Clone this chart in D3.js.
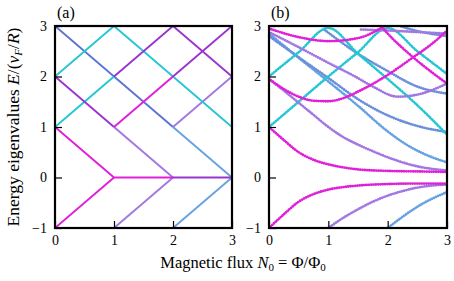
<!DOCTYPE html>
<html>
<head>
<meta charset="utf-8">
<script src="https://cdn.jsdelivr.net/npm/d3@7"></script>
<style>
body{margin:0;background:#fff}
text{font-family:"Liberation Serif","Times New Roman",serif;fill:#000}
</style>
</head>
<body>
<svg width="454" height="281"></svg>
<script>
const width = 454
const height = 281

const xTicks = [0, 1, 2, 3]
const yTicks = [-1, 0, 1, 2, 3]
const xDomain = [0, 3]
const yDomain = [-1, 3]

// panel (a): straight segments, [N0, E]
const aMag1 = [[0,1],[1,0],[2,0]]
const aMag2 = [[0,-1],[1,0]]
const aMag3 = [[1,1],[2,2]]
const aPur1 = [[0,2],[1,1]]
const aPur2 = [[1,2],[2,3],[3,2]]
const aPur3 = [[2,2],[3,3]]
const aPur4 = [[2,0],[3,0]]
const aLpu1 = [[1,-1],[2,0]]
const aLpu2 = [[1,1],[2,0]]
const aLpu3 = [[2,1],[3,2]]
const aBlu1 = [[0,3],[2,1]]
const aLbl1 = [[2,1],[3,0]]
const aLbl2 = [[2,-1],[3,0]]
const aCya1 = [[0,2],[1,3],[3,1]]
const aCya2 = [[0,1],[1,2]]

// panel (b): curves
const bMagUp = [[0,1.0],[0.25,0.74],[0.5,0.5],[0.75,0.35],[1,0.26],[1.25,0.2],[1.5,0.16],[2,0.13],[2.5,0.12],[3,0.11]]
const bMagDn = [[0,-1.0],[0.25,-0.73],[0.5,-0.48],[0.75,-0.33],[1,-0.24],[1.25,-0.19],[1.5,-0.16],[2,-0.13],[2.5,-0.12],[3,-0.12]]
const bPurUp = [[0,1.95],[0.25,1.72],[0.5,1.48],[0.75,1.24],[1,1.0],[1.25,0.8],[1.5,0.65],[1.75,0.52],[2,0.4],[2.25,0.3],[2.5,0.22],[2.75,0.17],[3,0.14]]
const bPurDn = [[1,-1],[1.25,-0.8],[1.5,-0.63],[1.75,-0.48],[2,-0.36],[2.25,-0.27],[2.5,-0.2],[2.75,-0.16],[3,-0.14]]
const bLblDn = [[2,-1],[2.25,-0.78],[2.5,-0.58],[2.75,-0.42],[3,-0.29]]
const bLblUp = [[0,2.85],[0.5,2.37],[1,1.9],[1.5,1.42],[1.98,0.93],[2.25,0.7],[2.5,0.53],[2.75,0.4],[3,0.3]]
const bBlu2 = [[0,2.8],[0.5,2.38],[1,1.97],[1.5,1.55],[2,1.23],[2.5,1.02],[3,0.9]]
const bBluTop = [[0.94,2.92],[1.5,2.45],[1.98,2.12],[2.5,1.8],[3,1.66]]
const bBluTop2 = [[2.15,3.02],[2.5,2.9],[3,2.8]]
const bPurTop = [[0,2.88],[0.5,2.58],[1,2.27],[1.45,2.0],[1.75,1.8],[2.17,1.6],[2.5,1.64],[3,1.86]]
const bPurTop2 = [[1.55,2.93],[2,2.91],[2.5,2.88],[3,2.85]]
const bMagA = [[0,1.95],[0.25,1.75],[0.5,1.6],[0.75,1.52],[1,1.51],[1.25,1.57],[1.5,1.7],[2,2.03],[2.43,2.38],[2.75,2.65],[3,2.91]]
const bMagTop = [[0,2.95],[0.5,2.78],[1,2.7],[1.5,2.76],[1.8,2.9],[2,3.05]]
const bMagB = [[1.85,3.05],[2,2.85],[2.43,2.38],[3,1.86]]
const bCya1 = [[0,2],[0.5,2.48],[1,2.96],[1.5,2.45],[2,1.95],[2.5,1.43],[3,0.85]]
const bCya2 = [[0,1],[0.5,1.5],[1,2],[1.5,2.48],[2,2.96],[2.5,2.5],[3,2.05]]

const colors = {
	mag: "#e01fd8",
	pur: "#9a34cf",
	lpu: "#a277e2",
	blu: "#5d72d3",
	lbl: "#65a1e3",
	sbl: "#6c8fdc",
	cya: "#24c6d3"
}

const aLines = [
	[aBlu1,"blu"],[aLbl1,"lbl"],[aLbl2,"lbl"],[aLpu1,"lpu"],[aLpu2,"lpu"],[aLpu3,"lpu"],
	[aCya1,"cya"],[aCya2,"cya"],[aPur1,"pur"],[aPur2,"pur"],[aPur3,"pur"],[aPur4,"pur"],
	[aMag1,"mag"],[aMag2,"mag"],[aMag3,"mag"]
]
const bLines = [
	[bLblUp,"lbl"],[bBlu2,"sbl"],[bBluTop,"sbl"],[bBluTop2,"sbl"],[bLblDn,"lbl"],[bCya1,"cya"],[bCya2,"cya"],
	[bPurTop,"lpu"],[bPurTop2,"lpu"],[bPurUp,"lpu"],[bPurDn,"lpu"],
	[bMagA,"mag"],[bMagTop,"mag"],[bMagB,"mag"],[bMagUp,"mag"],[bMagDn,"mag"]
]

const svg = d3.select("svg")
const yTop = 26, yBot = 228
const panels = [
	{id:"a", x0:55, x1:232, lines:aLines, dotted:false},
	{id:"b", x0:269, x1:447, lines:bLines, dotted:true}
]
const yScale = d3.scaleLinear().domain(yDomain).range([yBot, yTop])
const fmt = d3.format("d")

panels.forEach(p => {
	const xScale = d3.scaleLinear().domain(xDomain).range([p.x0, p.x1])
	const g = svg.append("g")

	g.append("clipPath").attr("id","clip"+p.id)
		.append("rect").attr("x",p.x0).attr("y",yTop)
		.attr("width",p.x1-p.x0).attr("height",yBot-yTop)

	const line = d3.line()
		.x(d => xScale(d[0])).y(d => yScale(d[1]))
		.curve(p.dotted ? d3.curveMonotoneX : d3.curveLinear)

	g.append("g").attr("clip-path",`url(#clip${p.id})`)
		.selectAll("path").data(p.lines).enter().append("path")
		.attr("d", d => line(d[0]))
		.attr("fill","none")
		.attr("stroke", d => colors[d[1]])
		.attr("stroke-width", p.dotted ? 2.8 : 1.9)
		.attr("stroke-linecap", p.dotted ? "round" : "butt")
		.attr("stroke-dasharray", p.dotted ? "0 2.3" : null)

	const yAxis = d3.axisLeft(yScale).tickValues(yTicks).tickFormat(fmt).tickSize(-7).tickPadding(8)
	g.append("g").attr("transform",`translate(${p.x0},0)`).call(yAxis)
		.call(a => a.select(".domain").remove())
		.call(a => a.selectAll("text").attr("font-size",14).style("font-family","'Liberation Serif',serif"))
		.call(a => a.selectAll("line").attr("stroke-width",1.2))

	const xAxis = d3.axisBottom(xScale).tickValues(xTicks).tickFormat(fmt).tickSize(-7).tickPadding(7)
	g.append("g").attr("transform",`translate(0,${yBot})`).call(xAxis)
		.call(a => a.select(".domain").remove())
		.call(a => a.selectAll("text").attr("font-size",14).style("font-family","'Liberation Serif',serif"))
		.call(a => a.selectAll("line").attr("stroke-width",1.2))

	g.append("rect").attr("x",p.x0).attr("y",yTop)
		.attr("width",p.x1-p.x0).attr("height",yBot-yTop)
		.attr("fill","none").attr("stroke","#000").attr("stroke-width",2.2)

	g.append("text").attr("x",p.x0+2).attr("y",18).attr("font-size",16).text(`(${p.id})`)
})

// axis titles
const yl = svg.append("text").attr("transform","translate(19,127) rotate(-90)")
	.attr("text-anchor","middle").attr("font-size",17.5)
yl.append("tspan").text("Energy eigenvalues ")
yl.append("tspan").attr("font-style","italic").text("E")
yl.append("tspan").text("/(")
yl.append("tspan").attr("font-style","italic").text("v")
yl.append("tspan").attr("font-style","italic").attr("font-size",11).attr("dy",3).text("F")
yl.append("tspan").attr("dy",-3).text("/")
yl.append("tspan").attr("font-style","italic").text("R")
yl.append("tspan").text(")")

const xl = svg.append("text").attr("x",243).attr("y",268)
	.attr("text-anchor","middle").attr("font-size",16.5)
xl.append("tspan").text("Magnetic flux ")
xl.append("tspan").attr("font-style","italic").text("N")
xl.append("tspan").attr("font-size",11).attr("dy",3).text("0")
xl.append("tspan").attr("dy",-3).text(" = Φ/Φ")
xl.append("tspan").attr("font-size",11).attr("dy",3).text("0")
</script>
</body>
</html>
